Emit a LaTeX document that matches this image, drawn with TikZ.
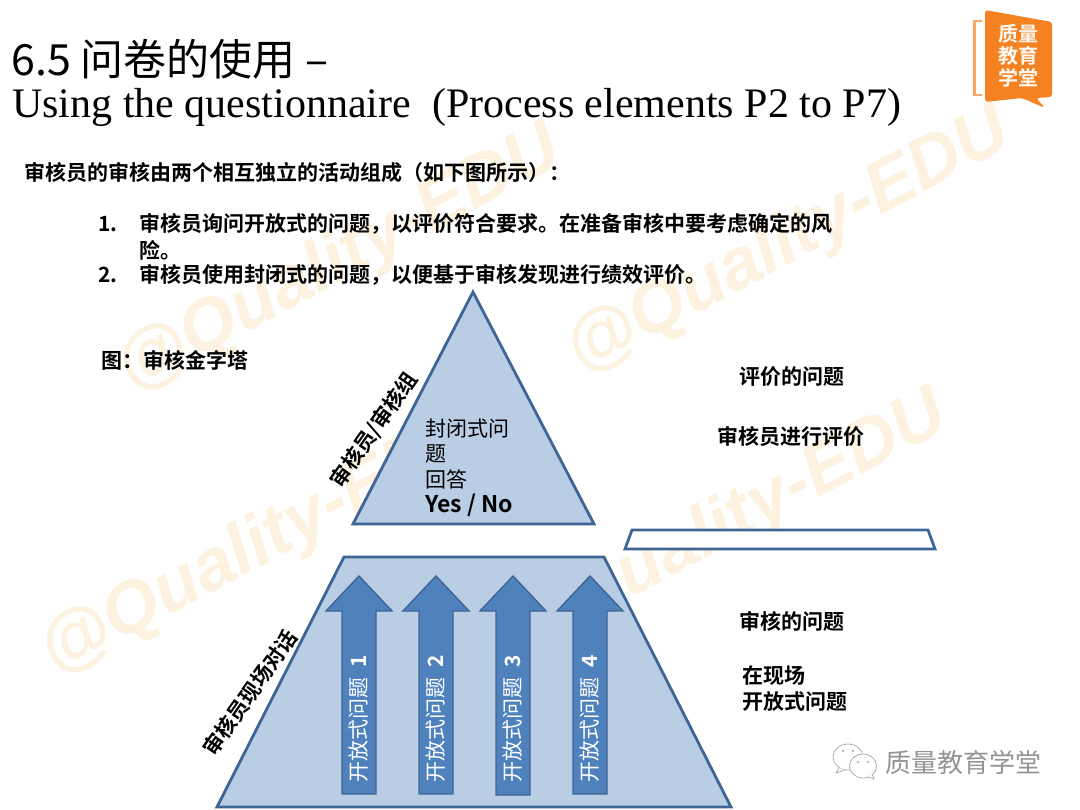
\documentclass[tikz,border=0pt]{standalone}
\usepackage{fontspec}
\setmainfont{Liberation Sans}
\newfontfamily\cjk{Noto Sans CJK SC}
\newfontfamily\cjkb{Noto Sans CJK SC Bold}
\newfontfamily\serifl{Liberation Serif}
\newfontfamily\wmfont[ItalicFont=Liberation Sans Italic,BoldItalicFont=Liberation Sans Bold Italic]{Liberation Sans}
\definecolor{fillb}{HTML}{B9CDE5}
\definecolor{lineb}{HTML}{3F6594}
\definecolor{arrowf}{HTML}{4F81BD}
\definecolor{wm}{HTML}{FDF1E0}
\definecolor{logo}{HTML}{F58220}
\tikzset{
 x=1pt,y=-1pt,
 shapeb/.style={draw=lineb,line width=2.8pt,fill=fillb,line join=miter},
 arr/.style={draw=lineb,line width=1.4pt,fill=arrowf},
 body/.style={font=\cjkb\fontsize{21}{23}\selectfont,text=black,anchor=west,inner sep=0},
 big/.style={font=\cjkb\fontsize{21}{26}\selectfont,text=black,anchor=west,inner sep=0},
 arrt/.style={font=\cjk\fontsize{21}{21}\selectfont,text=white,rotate=90,anchor=center,inner sep=0},
 wmk/.style={font=\wmfont\bfseries\itshape\fontsize{72}{72}\selectfont,text=wm,anchor=west,inner sep=0},
 wx/.style={draw=black!35,line width=0.7pt,fill=white},
}
\begin{document}
\begin{tikzpicture}
\useasboundingbox (0,0) rectangle (1080,810);
\fill[white] (0,0) rectangle (1080,810);
% watermarks
\node[wmk,rotate=28] (w1) at (124,376) {@Quality-EDU};
\node[wmk,rotate=28] (w2) at (47,659) {@Quality-EDU};
\node[wmk,rotate=28] (w3) at (573,358) {@Quality-EDU};
\node[wmk,rotate=28] (w4) at (510,641) {@Quality-EDU};
% title
\node[anchor=west,inner sep=0,font=\cjk\fontsize{43}{43}\selectfont] (t1) at (11,59) {6.5 问卷的使用 –};
\node[anchor=west,inner sep=0,font=\serifl\fontsize{42}{42}\selectfont] (t2) at (12,107) {Using the questionnaire\ \ (Process elements P2 to P7)};
% logo
\fill[logo!70!white] (973,20) rectangle (982,96);
\fill[white] (976,22) rectangle (985,94);
\fill[logo,rounded corners=3pt] (985,10) -- (1052,22) -- (1052,97) -- (1036,98) -- (1045,108) -- (1022,98) -- (985,102) -- cycle;
\node[font=\cjkb\fontsize{20}{22}\selectfont,text=white!95!logo,align=center,inner sep=0] (logot) at (1018,56) {质量\\教育\\学堂};
% text
\node[body] (b0) at (24,173) {审核员的审核由两个相互独立的活动组成（如下图所示）：};
\node[body] (n1) at (98,224) {1.};
\node[body] (b1) at (139,224) {审核员询问开放式的问题，以评价符合要求。在准备审核中要考虑确定的风};
\node[body] (b1b) at (139,250) {险。};
\node[body] (n2) at (98,275) {2.};
\node[body] (b2) at (139,275) {审核员使用封闭式的问题，以便基于审核发现进行绩效评价。};
\node[big] (fig) at (101,360) {图：审核金字塔};
% shapes
\path[shapeb] (473,292) -- (594,524) -- (353,524) -- cycle;
\node[anchor=west,inner sep=0,align=left,font=\cjk\fontsize{21}{25.5}\selectfont] (tri) at (425,468) {封闭式问\\题\\回答\\{\cjkb\fontsize{23}{25.5}\selectfont Yes / No}};
\node[big,rotate=55,anchor=center] (lab1) at (374,430) {审核员/审核组};
\path[shapeb,fill=white] (632,530) -- (928,530) -- (935,549) -- (625,549) -- cycle;
\path[shapeb] (344,557) -- (604,557) -- (731,807) -- (217,807) -- cycle;
\node[big,rotate=55,anchor=center] (lab2) at (250,693) {审核员现场对话};
\foreach \i/\xc/\yb in {1/359/794,2/436/794,3/513/795,4/590/794}{
 \path[arr] (\xc-17,\yb) -- (\xc-17,611) -- (\xc-33,611) -- (\xc,576) -- (\xc+33,611) -- (\xc+17,611) -- (\xc+17,\yb) -- cycle;
 \node[arrt] (q\i) at (\xc,719) {开放式问题\ \ {\cjkb\i}};
}
% right labels
\node[big] (r1) at (739,377) {评价的问题};
\node[big] (r2) at (717,436) {审核员进行评价};
\node[big] (r3) at (739,621) {审核的问题};
\node[big,align=left] (r4) at (742,689) {在现场\\开放式问题};
% wechat mark
\node[anchor=west,inner sep=0,font=\cjk\fontsize{26}{26}\selectfont,text=black!42] (wx) at (885,763) {质量教育学堂};
\draw[wx] (848,757) ellipse (15 and 13);
\draw[wx] (839,768) -- (836,773) -- (845,770);
\draw[wx] (863,766) ellipse (13.5 and 12);
\draw[wx] (868,777) -- (874,779) -- (872,774);
\fill[black!35] (843,751) circle (1.2) (853,751) circle (1.2) (858,762) circle (1.2) (868,762) circle (1.2);
\end{tikzpicture}
\end{document}
